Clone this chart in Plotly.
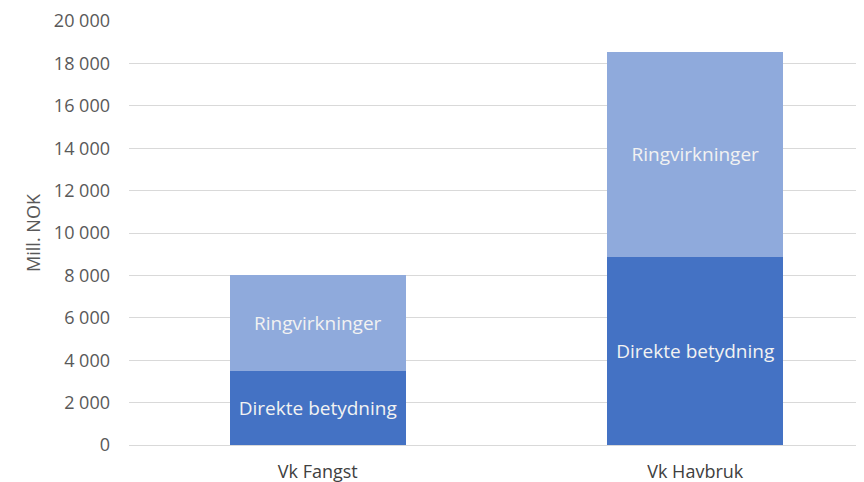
import plotly.graph_objects as go

categories = ["Vk Fangst", "Vk Havbruk"]
direkte = [3490, 8870]
ringvirkninger = [4530, 9670]
series_names = ["Direkte betydning", "Ringvirkninger"]
tick_vals = [0, 2000, 4000, 6000, 8000, 10000, 12000, 14000, 16000, 18000, 20000]
tick_text = ["0", "2 000", "4 000", "6 000", "8 000", "10 000", "12 000", "14 000", "16 000", "18 000", "20 000"]

FONT = "Open Sans, Noto Sans, sans-serif"

fig = go.Figure()
fig.add_trace(go.Bar(
    x=categories, y=direkte, name=series_names[0],
    marker=dict(color="#4472C4", line=dict(width=0)),
    text=[series_names[0]] * len(categories), textposition="inside",
    insidetextanchor="middle", textangle=0,
    textfont=dict(family=FONT, size=19, color="#F2F2F2"),
    width=0.466,
))
fig.add_trace(go.Bar(
    x=categories, y=ringvirkninger, name=series_names[1],
    marker=dict(color="#8FAADC", line=dict(width=0)),
    text=[series_names[1]] * len(categories), textposition="inside",
    insidetextanchor="middle", textangle=0,
    textfont=dict(family=FONT, size=19, color="#F2F2F2"),
    width=0.466,
))

fig.update_layout(
    barmode="stack",
    width=856, height=474,
    margin=dict(l=121, r=0, t=13, b=37),
    paper_bgcolor="white", plot_bgcolor="white",
    showlegend=False,
    uniformtext=dict(mode=False),
    font=dict(family=FONT, color="#595959"),
)
fig.update_xaxes(
    range=[-0.5, 1.447],
    showgrid=False, showline=False, ticks="",
    ticklabelstandoff=14,
    tickfont=dict(family=FONT, size=18, color="#404040"),
)
fig.update_yaxes(
    range=[0, 20000],
    tickvals=tick_vals, ticktext=tick_text,
    showgrid=True, gridcolor="#D9D9D9", gridwidth=1,
    zeroline=True, zerolinecolor="#D9D9D9", zerolinewidth=1,
    showline=False, ticks="",
    ticklabelstandoff=18,
    tickfont=dict(family=FONT, size=18, color="#595959"),
    title=dict(text="Mill. NOK", font=dict(family=FONT, size=18, color="#595959"), standoff=8),
)

fig.write_html("out.html")
